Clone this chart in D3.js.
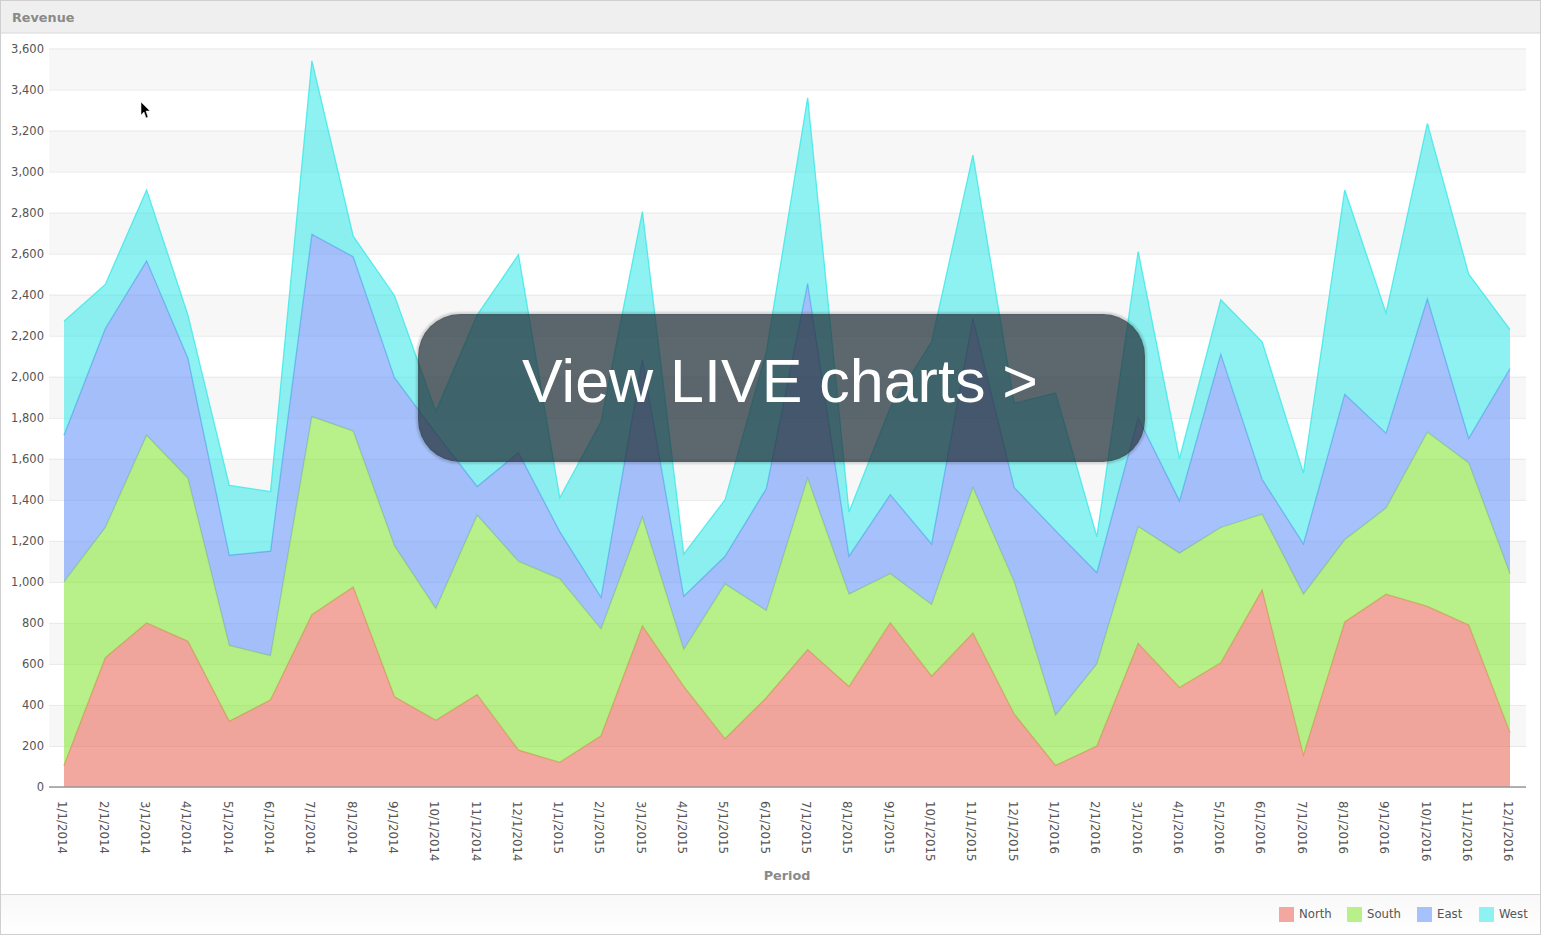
<!DOCTYPE html>
<html><head><meta charset="utf-8">
<script src="https://cdn.jsdelivr.net/npm/d3@7"></script>
<style>
html,body{margin:0;padding:0;background:#fff;overflow:hidden}
svg{display:block}
text{font-family:"DejaVu Sans",sans-serif}
</style></head><body>
<script>
const categories=["1/1/2014","2/1/2014","3/1/2014","4/1/2014","5/1/2014","6/1/2014","7/1/2014","8/1/2014","9/1/2014","10/1/2014","11/1/2014","12/1/2014","1/1/2015","2/1/2015","3/1/2015","4/1/2015","5/1/2015","6/1/2015","7/1/2015","8/1/2015","9/1/2015","10/1/2015","11/1/2015","12/1/2015","1/1/2016","2/1/2016","3/1/2016","4/1/2016","5/1/2016","6/1/2016","7/1/2016","8/1/2016","9/1/2016","10/1/2016","11/1/2016","12/1/2016"];
const north=[105,630,800,710,320,425,840,975,440,325,450,180,120,250,785,490,235,435,670,490,800,540,750,355,105,200,700,485,605,960,155,805,940,880,790,265];
const south=[895,635,915,795,370,215,965,760,735,545,875,920,895,520,530,180,755,425,835,450,240,350,710,645,245,400,570,655,660,370,785,400,420,850,790,775];
const east=[715,970,850,585,440,510,890,850,820,855,140,530,230,155,770,260,135,595,950,185,385,295,825,460,900,445,530,255,845,170,245,710,365,650,120,1000];
const west=[555,215,345,210,340,290,845,100,400,105,835,965,165,855,720,205,275,665,905,215,425,985,795,410,670,175,810,205,265,670,345,995,585,855,800,190];
const seriesNames=["North","South","East","West"];
const seriesFill=["#e9695a","#85e535","#6694f8","#3ee9e9"];
const seriesLine=["#e98a70","#9bdc6a","#6f9cf0","#3fe9e9"];
const legendSwatch=["#f2a89f","#b8f08a","#a6c1fb","#8ff2f2"];
const yTicks=d3.range(0,3601,200);
const title="Revenue", xTitle="Period", banner="View LIVE charts >";

const W=1541,H=935;
const svg=d3.select("body").append("svg").attr("width",W).attr("height",H);
const L=49,R=1526,T=48.5,B=787;
const x=d3.scalePoint().domain(categories).range([64,1510]);
const y=d3.scaleLinear().domain([0,3600]).range([B,T]);

// frame and header
svg.append("rect").attr("x",.5).attr("y",.5).attr("width",W-1).attr("height",H-1).attr("fill","#fff").attr("stroke","#cfcfcf");
svg.append("rect").attr("x",1).attr("y",1).attr("width",W-2).attr("height",32).attr("fill","#efefef");
svg.append("line").attr("x1",1).attr("x2",W-1).attr("y1",33).attr("y2",33).attr("stroke","#d8d8d8");
svg.append("text").attr("x",12).attr("y",21.5).attr("font-size",12.8).attr("font-weight",700).attr("fill","#8a8a8a").text(title);

// alternating bands
svg.append("g").selectAll("rect").data(yTicks.slice(1).filter((t,i)=>i%2===1)).join("rect")
  .attr("x",L).attr("width",R-L).attr("y",d=>y(d)).attr("height",d=>y(d-200)-y(d)).attr("fill","#f7f7f7");

// gridlines + labels through the axis
const yAxis=d3.axisLeft(y).tickValues(yTicks).tickSize(-(R-L)).tickFormat(d3.format(","));
const gy=svg.append("g").attr("transform",`translate(${L},0)`).call(yAxis);
gy.select(".domain").remove();
gy.selectAll("line").attr("stroke","#e9e9e9");
gy.selectAll("text").attr("x",-5).attr("font-size",11.5).attr("fill","#555").style("font-family","'DejaVu Sans',sans-serif");

// stacked areas
const rows=categories.map((c,i)=>({c,North:north[i],South:south[i],East:east[i],West:west[i]}));
const stacked=d3.stack().keys(seriesNames)(rows);
const area=d3.area().x(d=>x(d.data.c)).y0(d=>y(d[0])).y1(d=>y(d[1]));
const topLine=d3.line().x(d=>x(d.data.c)).y(d=>y(d[1]));
const g=svg.append("g");
stacked.forEach((s,i)=>{
  g.append("path").datum(s).attr("d",area).attr("fill",seriesFill[i]).attr("fill-opacity",.58);
  g.append("path").datum(s).attr("d",topLine).attr("fill","none").attr("stroke",seriesLine[i]).attr("stroke-width",1.3).attr("stroke-opacity",.85);
});

// x axis
const xAxis=d3.axisBottom(x).tickSize(0).tickPadding(0);
const gx=svg.append("g").attr("transform",`translate(0,${B})`).call(xAxis);
gx.select(".domain").remove();
gx.append("line").attr("x1",L).attr("x2",R).attr("stroke","#999").attr("stroke-width",1.5);
gx.selectAll(".tick text")
  .attr("transform","translate(-2,14) rotate(90)").attr("text-anchor","start").attr("dy","0.35em").attr("y",0).attr("x",0)
  .attr("font-size",11.8).attr("fill","#555").style("font-family","'DejaVu Sans',sans-serif");
svg.append("text").attr("x",787).attr("y",880).attr("text-anchor","middle").attr("font-size",12.8).attr("font-weight",700).attr("fill","#8a8a8a").text(xTitle);

// footer legend
const defs=svg.append("defs");
const lg=defs.append("linearGradient").attr("id","foot").attr("x1",0).attr("x2",0).attr("y1",0).attr("y2",1);
lg.append("stop").attr("offset",0).attr("stop-color","#f8f8f8");
lg.append("stop").attr("offset",1).attr("stop-color","#ffffff");
svg.append("rect").attr("x",1).attr("y",895).attr("width",W-2).attr("height",39).attr("fill","url(#foot)");
svg.append("line").attr("x1",1).attr("x2",W-1).attr("y1",894.5).attr("y2",894.5).attr("stroke","#d8d8d8");
const legendX=[1279,1347,1417,1479];
seriesNames.forEach((n,i)=>{
  svg.append("rect").attr("x",legendX[i]).attr("y",907).attr("width",15).attr("height",15).attr("fill",legendSwatch[i]);
  svg.append("text").attr("x",legendX[i]+20).attr("y",917.5).attr("font-size",11.7).attr("fill","#555").text(n);
});

// banner: soft ring as the shadow, so nothing darkens beneath the translucent fill
defs.append("filter").attr("id","sh").attr("x","-5%").attr("y","-10%").attr("width","110%").attr("height","120%")
  .append("feGaussianBlur").attr("stdDeviation",1);
svg.append("rect").attr("x",417.5).attr("y",313.5).attr("width",728).attr("height",149).attr("rx",42).attr("ry",42)
  .attr("fill","none").attr("stroke","#000").attr("stroke-opacity",.22).attr("stroke-width",2).attr("filter","url(#sh)");
svg.append("rect").attr("x",418).attr("y",314).attr("width",727).attr("height",148).attr("rx",42).attr("ry",42)
  .attr("fill","#26343e").attr("fill-opacity",.75);
svg.append("text").attr("x",780).attr("y",402).attr("text-anchor","middle").attr("font-size",61).attr("fill","#fff")
  .style("font-family","'Liberation Sans',Arial,sans-serif").text(banner);

// mouse cursor
svg.append("path").attr("d",d3.line()([[141,102],[141,115],[144,112],[146,118],[148,117],[146,111],[150,111]])+"Z").attr("fill","#000").attr("stroke","#fff").attr("stroke-width",.5);
</script>
</body></html>
